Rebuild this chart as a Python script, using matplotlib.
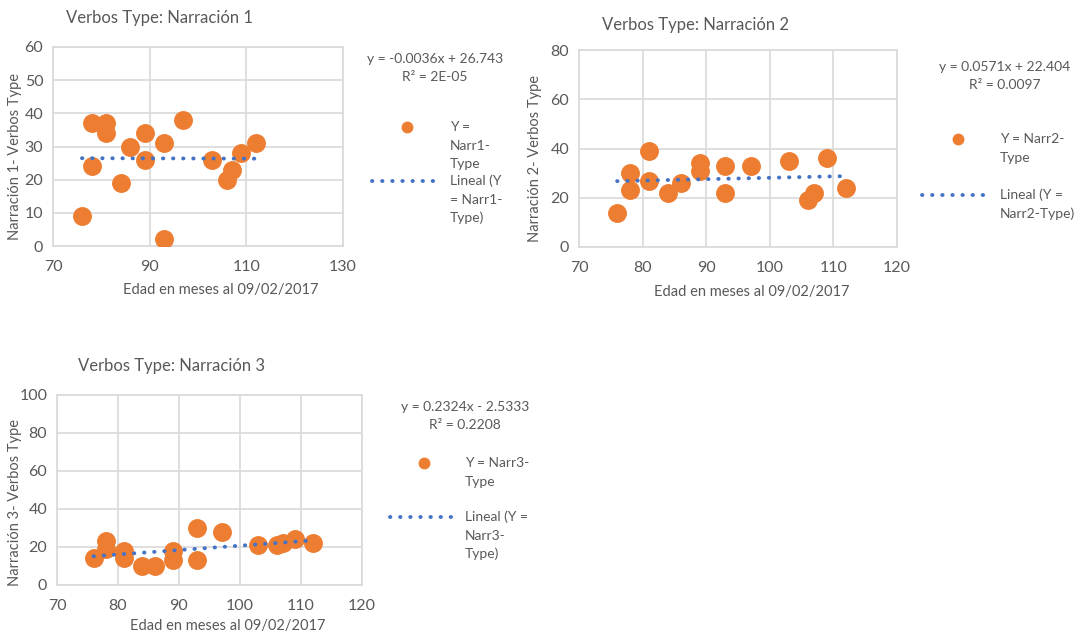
import matplotlib
matplotlib.use("Agg")
import matplotlib.pyplot as plt
from matplotlib.lines import Line2D
import numpy as np

# ages (months) shared by the three narrations
edad = [76, 78, 78, 81, 81, 84, 86, 89, 89, 93, 93, 97, 103, 106, 107, 109, 112]
narr1 = [9, 37, 24, 37, 34, 19, 30, 34, 26, 31, 2, 38, 26, 20, 23, 28, 31]
narr2 = [14, 30, 23, 39, 27, 22, 26, 34, 31, 33, 22, 33, 35, 19, 22, 36, 24]
narr3 = [14, 23, 19, 18, 14, 10, 10, 18, 13, 30, 13, 28, 21, 21, 22, 24, 22]

titles = ["Verbos Type: Narración 1", "Verbos Type: Narración 2", "Verbos Type: Narración 3"]
ylabels = ["Narración 1- Verbos Type", "Narración 2- Verbos Type", "Narración 3- Verbos Type"]
xlabel = "Edad en meses al 09/02/2017"
equations = [("y = -0.0036x + 26.743", "R² = 2E-05"),
             ("y = 0.0571x + 22.404", "R² = 0.0097"),
             ("y = 0.2324x - 2.5333", "R² = 0.2208")]
series_labels = [["Y =", "Narr1-", "Type"], ["Y = Narr2-", "Type"], ["Y = Narr3-", "Type"]]
trend_labels = [["Lineal (Y", "= Narr1-", "Type)"], ["Lineal (Y =", "Narr2-Type)"],
                ["Lineal (Y =", "Narr3-", "Type)"]]
xticks = [[70, 90, 110, 130], [70, 80, 90, 100, 110, 120], [70, 80, 90, 100, 110, 120]]
yticks = [[0, 10, 20, 30, 40, 50, 60], [0, 20, 40, 60, 80], [0, 20, 40, 60, 80, 100]]

ORANGE = "#ED7D31"
BLUE = "#4472C4"
GRID = "#D9D9D9"
TXT = "#595959"

W, H = 1080, 637
plt.rcParams['font.family'] = ['Lato', 'DejaVu Sans']
fig = plt.figure(figsize=(W / 100, H / 100), dpi=100)

def fx(x):
    return x / W

def fy(y):
    return 1 - y / H

# layout in pixels: plot box, title, labels, legend
boxes = [(53, 47, 343, 246), (579, 50, 897, 247), (57, 395, 362, 585)]
title_pos = [(160, 18), (695, 25), (171, 366)]
xlab_pos = [(221, 290), (752, 292), (228, 626)]
ylab_pos = [(15, 157), (535, 159), (15, 502)]
eq_pos = [(435, 59), (1005, 67), (465, 407)]
leg_marker = [(407, 127), (958, 139), (424, 463)]
leg_text_x = [450, 1000, 465]
leg_line = [(372, 437, 181), (922, 986, 195), (390, 452, 517)]
line_h = 18.5

data = [narr1, narr2, narr3]

for i in range(3):
    l, t, r, b = boxes[i]
    ax = fig.add_axes([fx(l), fy(b), (r - l) / W, (b - t) / H])
    y = np.array(data[i])
    x = np.array(edad)
    ax.scatter(x, y, s=185, color=ORANGE, zorder=3, linewidths=0)
    k, c = np.polyfit(x, y, 1)
    xs = np.array([x.min(), x.max()])
    ax.plot(xs, k * xs + c, color=BLUE, lw=2.8, linestyle=(0, (0.1, 2.5)),
            dash_capstyle='round', zorder=4)
    ax.set_xlim(xticks[i][0], xticks[i][-1])
    ax.set_ylim(yticks[i][0], yticks[i][-1])
    ax.set_xticks(xticks[i])
    ax.set_yticks(yticks[i])
    ax.grid(True, color=GRID, lw=1.2)
    ax.set_axisbelow(True)
    for s in ax.spines.values():
        s.set_color(GRID)
        s.set_linewidth(1.2)
    ax.tick_params(length=0, labelsize=11.5, colors=TXT)
    ax.tick_params(axis='x', pad=10)
    ax.tick_params(axis='y', pad=7)

    fig.text(fx(title_pos[i][0]), fy(title_pos[i][1]), titles[i], ha='center', va='center',
             fontsize=12, color=TXT)
    fig.text(fx(xlab_pos[i][0]), fy(xlab_pos[i][1]), xlabel, ha='center', va='center',
             fontsize=10.5, color=TXT)
    fig.text(fx(ylab_pos[i][0]), fy(ylab_pos[i][1]), ylabels[i], ha='center', va='center',
             rotation=90, fontsize=10.5, color=TXT)

    ex, ey = eq_pos[i]
    fig.text(fx(ex), fy(ey), equations[i][0], ha='center', va='center', fontsize=10, color=TXT)
    fig.text(fx(ex), fy(ey + 18), equations[i][1], ha='center', va='center', fontsize=10, color=TXT)

    mx, my = leg_marker[i]
    fig.add_artist(Line2D([fx(mx)], [fy(my)], transform=fig.transFigure, marker='o',
                          markersize=7.5, color=ORANGE, linestyle='none'))
    for j, s in enumerate(series_labels[i]):
        fig.text(fx(leg_text_x[i]), fy(my + j * line_h), s, ha='left', va='center',
                 fontsize=10, color=TXT)
    x0, x1, ly = leg_line[i]
    fig.add_artist(Line2D([fx(x0), fx(x1)], [fy(ly), fy(ly)], transform=fig.transFigure,
                          color=BLUE, lw=2.8, linestyle=(0, (0.1, 2.5)), dash_capstyle='round'))
    for j, s in enumerate(trend_labels[i]):
        fig.text(fx(leg_text_x[i]), fy(ly + j * line_h), s, ha='left', va='center',
                 fontsize=10, color=TXT)

fig.savefig("out.png", dpi=100)
